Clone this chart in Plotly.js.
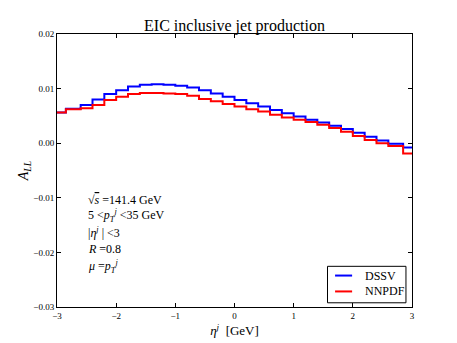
<!DOCTYPE html>
<html>
<head>
<meta charset="utf-8">
<script src="https://cdn.plot.ly/plotly-3.0.1.min.js"></script>
<style>html,body{margin:0;padding:0;background:#fff;}#chart{width:457px;height:343px;}</style>
</head>
<body>
<div id="chart"></div>
<script>
// Bin edges in eta^j (31 edges -> 30 bins)
const etaEdges = [-3, -2.85, -2.6, -2.4, -2.2, -2.0, -1.8, -1.6, -1.4, -1.2, -1.0,
  -0.8, -0.6, -0.4, -0.2, 0.0, 0.2, 0.4, 0.6, 0.8, 1.0,
  1.2, 1.4, 1.6, 1.8, 2.0, 2.2, 2.4, 2.6, 2.85, 3];
// A_LL per bin
const dssv = [0.0056, 0.0063, 0.0070, 0.0080, 0.0090, 0.0097, 0.0104, 0.0107, 0.0108, 0.0107,
  0.0105, 0.0102, 0.0097, 0.0091, 0.0085, 0.0079, 0.0073, 0.0067, 0.0061, 0.0055,
  0.0049, 0.0043, 0.0038, 0.0032, 0.0026, 0.0019, 0.0012, 0.0005, -0.0001, -0.0008];
const nnpdf = [0.0056, 0.0062, 0.0064, 0.0070, 0.0079, 0.0085, 0.0090, 0.0092, 0.0092, 0.0091,
  0.0090, 0.0087, 0.0081, 0.0077, 0.0072, 0.0067, 0.0062, 0.0058, 0.0052, 0.0047,
  0.0043, 0.0039, 0.0034, 0.0028, 0.0021, 0.0013, 0.0006, 0.0000, -0.0005, -0.0019];
const seriesNames = ['DSSV', 'NNPDF'];
const seriesColors = ['#0000ff', '#ff0000'];
const xTicks = [-3, -2, -1, 0, 1, 2, 3];
const yTicks = [-0.03, -0.02, -0.01, 0.00, 0.01, 0.02];
const infoLines = [
  '√<span style="text-decoration:overline"><i>s</i></span> =141.4 GeV',
  '5 &lt;<i>p</i><sub><i>T</i></sub><sup><i>j</i></sup> &lt;35 GeV',
  '|<i>η</i><sup><i>j</i></sup> | &lt;3',
  '<i>R</i> =0.8',
  '<i>μ</i> =<i>p</i><sub><i>T</i></sub><sup><i>j</i></sup>'
];

function stepY(v) { return v.concat([v[v.length - 1]]); }

const traces = [dssv, nnpdf].map((vals, i) => ({
  type: 'scatter', mode: 'lines',
  x: etaEdges, y: stepY(vals),
  line: {shape: 'hv', color: seriesColors[i], width: 2},
  name: seriesNames[i], showlegend: false
}));

const serif = 'Liberation Serif, Times New Roman, serif';
const infoY = [0.3905, 0.3346, 0.2713, 0.2139, 0.1492];
const annotations = infoLines.map((t, i) => ({
  text: t, xref: 'paper', yref: 'paper', x: 0.083, y: infoY[i],
  xanchor: 'left', yanchor: 'middle', showarrow: false,
  font: {family: serif, size: 12, color: '#000'}
}));

// Hand-built legend (matplotlib style: short line samples)
const legBox = {x0: 0.762, x1: 0.983, y0: 0.0154, y1: 0.149};
const legRowY = [0.1152, 0.057];
const shapes = [{type: 'rect', xref: 'paper', yref: 'paper',
  x0: legBox.x0, x1: legBox.x1, y0: legBox.y0, y1: legBox.y1,
  line: {color: '#000', width: 1}, fillcolor: '#fff', layer: 'above'}];
seriesNames.forEach((n, i) => {
  shapes.push({type: 'line', xref: 'paper', yref: 'paper',
    x0: 0.7833, x1: 0.8313, y0: legRowY[i], y1: legRowY[i],
    line: {color: seriesColors[i], width: 2}, layer: 'above'});
  annotations.push({text: n, xref: 'paper', yref: 'paper', x: 0.862, y: legRowY[i],
    xanchor: 'left', yanchor: 'middle', showarrow: false,
    font: {family: serif, size: 12, color: '#000'}});
});

const axisCommon = {
  showline: true, linecolor: '#000', linewidth: 1, mirror: 'ticks',
  ticks: 'inside', ticklen: 4, tickcolor: '#000', tickwidth: 1,
  showgrid: false, zeroline: false,
  tickfont: {family: serif, size: 9, color: '#000'}
};

const layout = {
  width: 457, height: 343,
  margin: {l: 57, r: 45, t: 34, b: 35.5},
  paper_bgcolor: '#fff', plot_bgcolor: '#fff',
  font: {family: serif, color: '#000'},
  title: {text: 'EIC inclusive jet production', font: {family: serif, size: 16, color: '#000'},
    x: 0.5, xref: 'paper', xanchor: 'center', y: 1, yref: 'paper', yanchor: 'bottom', pad: {b: 3}},
  xaxis: Object.assign({}, axisCommon, {
    range: [-3, 3], tickvals: xTicks, ticktext: xTicks.map(v => v < 0 ? '\u2212' + Math.abs(v) : String(v)),
    title: {text: '<i>η</i><sup><i>j</i></sup>  [GeV]', font: {family: serif, size: 13, color: '#000'}, standoff: 6}
  }),
  yaxis: Object.assign({}, axisCommon, {
    range: [-0.03, 0.02], tickvals: yTicks,
    ticktext: yTicks.map(v => (v < 0 ? '\u2212' : '') + Math.abs(v).toFixed(2)),
    title: {text: '<i>A</i><sub><i>LL</i></sub>', font: {family: serif, size: 14, color: '#000'}, standoff: 1}
  }),
  showlegend: false,
  shapes: shapes,
  annotations: annotations
};

Plotly.newPlot('chart', traces, layout, {displayModeBar: false, staticPlot: true});
</script>
</body>
</html>
